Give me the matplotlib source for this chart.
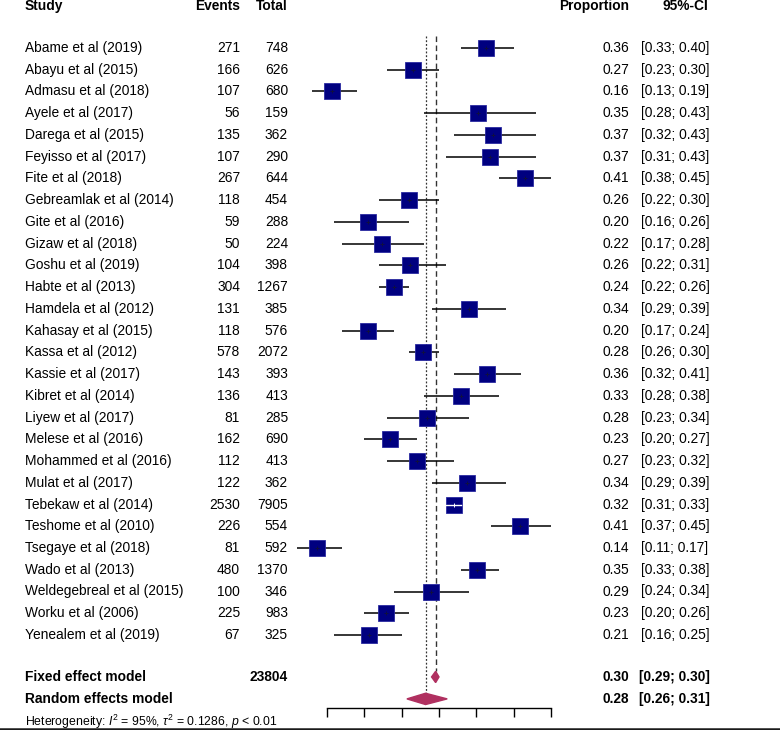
import matplotlib
matplotlib.use("Agg")
import matplotlib.pyplot as plt
from matplotlib.lines import Line2D
from matplotlib.patches import Polygon
from matplotlib.transforms import blended_transform_factory

plt.rcParams['font.family'] = ['Liberation Sans', 'DejaVu Sans']
plt.rcParams['mathtext.fontset'] = 'custom'
plt.rcParams['mathtext.rm'] = 'Liberation Sans'
plt.rcParams['mathtext.it'] = 'Liberation Sans:italic'

studies = ["Abame et al (2019)", "Abayu et al (2015)", "Admasu et al (2018)",
           "Ayele et al (2017)", "Darega et al (2015)", "Feyisso et al (2017)",
           "Fite et al (2018)", "Gebreamlak et al (2014)", "Gite et al (2016)",
           "Gizaw et al (2018)", "Goshu et al (2019)", "Habte et al (2013)",
           "Hamdela et al (2012)", "Kahasay et al (2015)", "Kassa et al (2012)",
           "Kassie et al (2017)", "Kibret et al (2014)", "Liyew et al (2017)",
           "Melese et al (2016)", "Mohammed et al (2016)", "Mulat et al (2017)",
           "Tebekaw et al (2014)", "Teshome et al (2010)", "Tsegaye et al (2018)",
           "Wado et al (2013)", "Weldegebreal et al (2015)", "Worku et al (2006)",
           "Yenealem et al (2019)"]
events = [271, 166, 107, 56, 135, 107, 267, 118, 59, 50, 104, 304, 131, 118,
          578, 143, 136, 81, 162, 112, 122, 2530, 226, 81, 480, 100, 225, 67]
totals = [748, 626, 680, 159, 362, 290, 644, 454, 288, 224, 398, 1267, 385, 576,
          2072, 393, 413, 285, 690, 413, 362, 7905, 554, 592, 1370, 346, 983, 325]
ci_low = [0.33, 0.23, 0.13, 0.28, 0.32, 0.31, 0.38, 0.22, 0.16, 0.17, 0.22, 0.22,
          0.29, 0.17, 0.26, 0.32, 0.28, 0.23, 0.20, 0.23, 0.29, 0.31, 0.37, 0.11,
          0.33, 0.24, 0.20, 0.16]
ci_high = [0.40, 0.30, 0.19, 0.43, 0.43, 0.43, 0.45, 0.30, 0.26, 0.28, 0.31, 0.26,
           0.39, 0.24, 0.30, 0.41, 0.38, 0.34, 0.27, 0.32, 0.39, 0.33, 0.45, 0.17,
           0.38, 0.34, 0.26, 0.25]

fixed_est, fixed_lo, fixed_hi = 0.2955, 0.29, 0.30
random_est, random_lo, random_hi = 0.282, 0.257, 0.311
total_n = 23804
xticks = [0.15, 0.20, 0.25, 0.30, 0.35, 0.40, 0.45]

W, H = 780, 730
fig = plt.figure(figsize=(W / 100, H / 100), dpi=100)
ax = fig.add_axes([327 / W, 0, 224 / W, 1])
ax.set_xlim(0.15, 0.45)
# rows: pixel y = 48 + 21.74 * row
row_h = 21.74
ax.set_ylim((H - 48) / row_h, -48 / row_h)
for s in ['top', 'left', 'right']:
    ax.spines[s].set_visible(False)
ax.spines['bottom'].set_position(('data', 30.36))
ax.spines['bottom'].set_linewidth(1.0)
ax.set_xticks(xticks)
ax.set_xticklabels([''] * len(xticks))
ax.tick_params(axis='x', direction='out', length=6.5, width=1.0)
ax.set_yticks([])
ax.patch.set_visible(False)

navy = '#000080'
maroon = '#B03060'
n = len(studies)
props = [e / t for e, t in zip(events, totals)]

# reference lines
ax.plot([fixed_est, fixed_est], [-0.55, 28.65], color='#333333', lw=1.0,
        ls=(0, (4, 2.5)), clip_on=False)
ax.plot([random_est, random_est], [-0.55, 29.7], color='#333333', lw=0.9,
        ls=(0, (1.5, 1.5)), clip_on=False)

box_w = 16 / (224 / 0.30)
for i in range(n):
    ax.plot([ci_low[i], ci_high[i]], [i, i], color='black', lw=1.1,
            clip_on=False, zorder=3, solid_capstyle='butt')
    ax.plot(props[i], i, marker='s', markersize=12.2, markerfacecolor=navy,
            markeredgecolor='#2a2aa0', markeredgewidth=0.6, clip_on=False, zorder=4)
    inner = 'white' if (ci_high[i] - ci_low[i]) < box_w else '#101040'
    if inner == 'white':
        ax.plot([ci_low[i], ci_high[i]], [i, i], color='white', lw=1.0,
                clip_on=False, zorder=5)
    ax.plot(props[i], i, marker='+', markersize=3.5, color=inner,
            markeredgewidth=0.7, clip_on=False, zorder=6)

# summary diamonds
fy = 28.93
ax.add_patch(Polygon([[fixed_lo, fy], [fixed_est, fy - 0.26], [fixed_hi, fy],
                      [fixed_est, fy + 0.26]], closed=True, color=maroon, zorder=4))
ry = 29.94
ax.add_patch(Polygon([[random_lo, ry], [random_est, ry - 0.26], [random_hi, ry],
                      [random_est, ry + 0.26]], closed=True, color=maroon, zorder=4))

# text columns
tr = blended_transform_factory(fig.transFigure, ax.transData)
fs = 9.9
hy = -1.95
ax.text(25 / W, hy, "Study", transform=tr, fontsize=fs, fontweight='bold',
        ha='left', va='center')
ax.text(240 / W, hy, "Events", transform=tr, fontsize=fs, fontweight='bold',
        ha='right', va='center')
ax.text(288 / W, hy, "Total", transform=tr, fontsize=fs, fontweight='bold',
        ha='right', va='center')
ax.text(629 / W, hy, "Proportion", transform=tr, fontsize=fs, fontweight='bold',
        ha='right', va='center')
ax.text(708 / W, hy, "95%-CI", transform=tr, fontsize=fs, fontweight='bold',
        ha='right', va='center')

for i in range(n):
    ax.text(25 / W, i, studies[i], transform=tr, fontsize=fs, ha='left', va='center')
    ax.text(240 / W, i, str(events[i]), transform=tr, fontsize=fs, ha='right', va='center')
    ax.text(288 / W, i, str(totals[i]), transform=tr, fontsize=fs, ha='right', va='center')
    ax.text(629 / W, i, f"{props[i]:.2f}", transform=tr, fontsize=fs, ha='right', va='center')
    ax.text(641 / W, i, f"[{ci_low[i]:.2f}; {ci_high[i]:.2f}]", transform=tr,
            fontsize=fs, ha='left', va='center')

ax.text(25 / W, fy, "Fixed effect model", transform=tr, fontsize=fs,
        fontweight='bold', ha='left', va='center')
ax.text(288 / W, fy, str(total_n), transform=tr, fontsize=fs,
        fontweight='bold', ha='right', va='center')
ax.text(629 / W, fy, f"{fixed_est:.2f}", transform=tr, fontsize=fs,
        fontweight='bold', ha='right', va='center')
ax.text(639 / W, fy, f"[{fixed_lo:.2f}; {fixed_hi:.2f}]", transform=tr, fontsize=fs,
        fontweight='bold', ha='left', va='center')
ax.text(25 / W, ry, "Random effects model", transform=tr, fontsize=fs,
        fontweight='bold', ha='left', va='center')
ax.text(629 / W, ry, "0.28", transform=tr, fontsize=fs,
        fontweight='bold', ha='right', va='center')
ax.text(639 / W, ry, "[0.26; 0.31]", transform=tr, fontsize=fs,
        fontweight='bold', ha='left', va='center')

ax.text(25 / W, 31.0, r"Heterogeneity: $I^2$ = 95%, $\tau^2$ = 0.1286, $p$ < 0.01",
        transform=tr, fontsize=8.8, ha='left', va='center')

fig.add_artist(Line2D([0, 1], [1.2 / H, 1.2 / H], transform=fig.transFigure,
                      color='#1a1a1a', lw=1.8))

fig.savefig("out.png", dpi=100)
